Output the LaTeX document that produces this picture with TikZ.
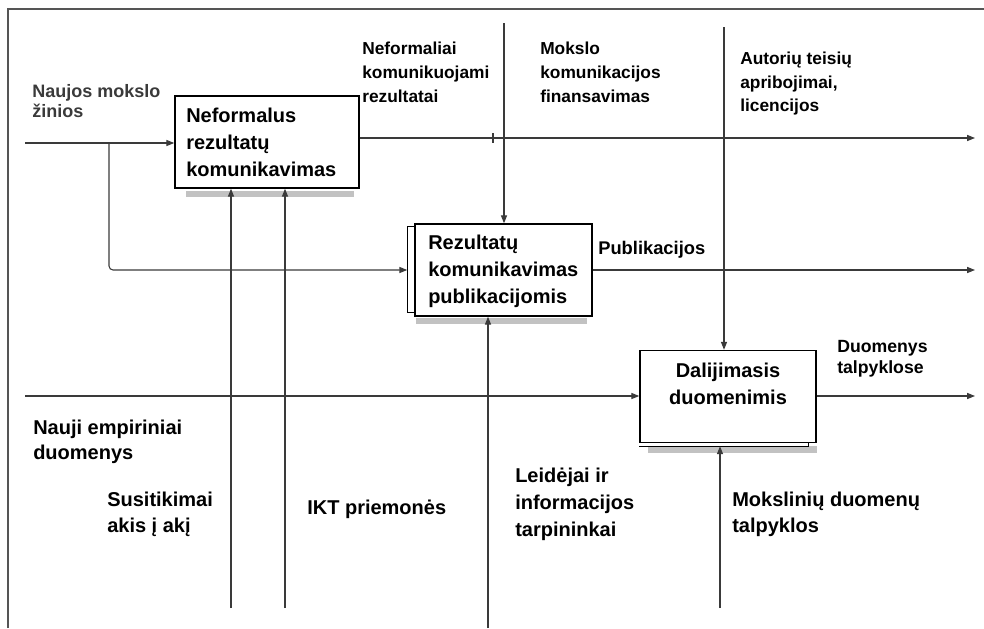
\documentclass[tikz,border=0pt]{standalone}
\usepackage{fontspec}
\setmainfont{Liberation Sans}
\usetikzlibrary{arrows.meta,calc}
\definecolor{linec}{HTML}{3A3A3A}
\definecolor{shade}{HTML}{C2C2C2}
\definecolor{framec}{HTML}{555555}
\begin{document}
\begin{tikzpicture}[x=0.75pt,y=-0.75pt,
  conn/.style={draw=linec,line width=0.8pt},
  arr/.style={conn,-{Triangle[length=6pt,width=4.6pt]}},
  procbox/.style={draw=black,line width=1.1pt,fill=white,rectangle,inner sep=0pt,minimum height=69pt},
  boxtxt/.style={font=\fontsize{15}{20.25}\selectfont\bfseries,align=left,inner sep=0pt,anchor=north west},
  lblA/.style={font=\fontsize{13}{18}\selectfont\bfseries,align=left,inner sep=0pt,anchor=north west},
  lblB/.style={font=\fontsize{15}{19.5}\selectfont\bfseries,align=left,inner sep=0pt,anchor=north west},
  shadowbar/.style={fill=shade}]
\useasboundingbox (0,0) rectangle (984,628);
% frame
\draw[framec,line width=1.2pt] (8,628) -- (8,9) -- (984,9);

% boxes
\node[procbox,minimum width=138pt] (b1) at (267,142) {};
\node[procbox,minimum width=132.75pt] (b2) at (503.5,270) {};
\node[procbox,minimum width=132pt] (b3) at (728,396.5) {};

% shadows
\fill[shadowbar] ([shift={(12,2)}]b1.south west) rectangle ++(168,6);
\fill[shadowbar] ([shift={(2,1.5)}]b2.south west) rectangle ++(171,6);
\fill[shadowbar] ([shift={(9,3)}]b3.south west) rectangle ++(169,7);

% extra edges
\draw[line width=1.1pt] ([yshift=-2.25pt]b2.north west) -- ++(-7,0) -- ++(0,86) -- ++(7,0);
\draw[line width=0.9pt] ([yshift=-2.25pt]b3.south west) -- ++(169,0) -- ++(0,-3);

% box texts
\node[boxtxt] (t1) at (186,108) {Neformalus\\rezultatų\\komunikavimas};
\node[boxtxt] (t2) at (428,235) {Rezultatų\\komunikavimas\\publikacijomis};
\node[boxtxt,align=center,anchor=north] (t3) at (728,363) {Dalijimasis\\duomenimis};

% labels
\node[lblA,font=\fontsize{13.5}{15}\selectfont\bfseries,text=linec] (l1) at (32,84) {Naujos mokslo\\žinios};
\node[lblA] (l2) at (362,42) {Neformaliai\\komunikuojami\\rezultatai};
\node[lblA] (l3) at (540,42) {Mokslo\\komunikacijos\\finansavimas};
\node[lblA,font=\fontsize{13}{17.5}\selectfont\bfseries] (l4) at (740,52) {Autorių teisių\\apribojimai,\\licencijos};
\node[lblA,font=\fontsize{13.75}{15.75}\selectfont\bfseries] (l5) at (598,241) {Publikacijos};
\node[lblA,font=\fontsize{13.25}{15.75}\selectfont\bfseries] (l6) at (837,340) {Duomenys\\talpyklose};
\node[lblB,font=\fontsize{15}{18.75}\selectfont\bfseries] (l7) at (33,420) {Nauji empiriniai\\duomenys};
\node[lblB] (l8) at (107,492) {Susitikimai\\akis į akį};
\node[lblB] (l9) at (307,500) {IKT priemonės};
\node[lblB,font=\fontsize{15}{20.25}\selectfont\bfseries] (l10) at (515,468) {Leidėjai ir\\informacijos\\tarpininkai};
\node[lblB] (l11) at (732,492) {Mokslinių duomenų\\talpyklos};

% inputs
\coordinate (in1) at (25,143);
\coordinate (br) at (109,143);
\draw[arr] (in1) -- (in1 -| b1.west);
\coordinate (b2edge) at ([xshift=-5.25pt]b2.west);
\draw[arr,rounded corners=3pt] (br) -- (br |- b2edge) -- (b2edge);
\coordinate (in3) at (25,396);
\draw[arr] (in3) -- (in3 -| b3.west);

% outputs
\coordinate (out1) at (975,138);
\draw[arr] (out1 -| b1.east) -- (out1);
\draw[conn] (493,133) -- (493,143);
\coordinate (out2) at (975,270);
\draw[arr] (b2.east) -- (out2);
\coordinate (out3) at (975,396);
\draw[arr] (out3 -| b3.east) -- (out3);

% controls
\coordinate (c2) at (504,23);
\draw[arr] (c2) -- (c2 |- b2.north);
\coordinate (c3) at (724,27);
\draw[arr] (c3) -- (c3 |- b3.north);

% mechanisms
\coordinate (m1) at (231,608);
\draw[arr] (m1) -- (m1 |- b1.south);
\coordinate (m2) at (285,608);
\draw[arr] (m2) -- (m2 |- b1.south);
\coordinate (m3) at (488,628);
\draw[arr] (m3) -- (m3 |- b2.south);
\draw[conn,line width=1.3pt] (488,392) -- (488,400);
\coordinate (m4) at (720,608);
\draw[arr] (m4) -- ([yshift=-2.25pt]m4 |- b3.south);
\end{tikzpicture}
\end{document}
